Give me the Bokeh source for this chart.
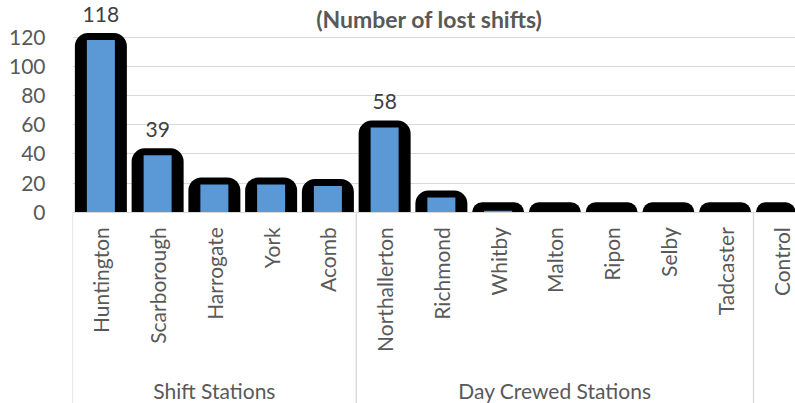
from bokeh.plotting import figure
from bokeh.models import Range1d, FixedTicker, LinearAxis, ColumnDataSource
from bokeh.core.properties import value
from bokeh.embed import file_html
from bokeh.resources import INLINE

# ---- data ----
stations = ["Huntington", "Scarborough", "Harrogate", "York", "Acomb",
            "Northallerton", "Richmond", "Whitby", "Malton", "Ripon",
            "Selby", "Tadcaster", "Control"]
lost_shifts = [118, 39, 19, 19, 18, 58, 10, 1, 0, 0, 0, 0, 0]
group_names = ["Shift Stations", "Day Crewed Stations", ""]
group_sizes = [5, 7, 1]
labelled_stations = ["Huntington", "Scarborough", "Northallerton"]
y_ticks = [0, 20, 40, 60, 80, 100, 120]
title_text = "(Number of lost shifts)"

# ---- layout constants (pixels) ----
W, H = 795, 403
LEFT = 72
PX_PER_UNIT = 175.0 / 120.0
CAT_PX = 56.75
ZERO_PX = 211.7          # canvas y of the value 0

xs = list(range(len(stations)))
x_start = -0.5
x_end = x_start + (W - LEFT) / CAT_PX
y_end = ZERO_PX / PX_PER_UNIT
y_start = -(H - ZERO_PX) / PX_PER_UNIT

TEXT = "#595959"
GRID = "#D9D9D9"
FONT = value("Lato")

p = figure(width=W, height=H, x_range=Range1d(x_start, x_end),
           y_range=Range1d(y_start, y_end), output_backend="svg",
           toolbar_location=None, x_axis_type=None,
           min_border_left=LEFT, min_border_right=0,
           min_border_top=0, min_border_bottom=0)
p.outline_line_color = None
p.background_fill_color = "white"
p.border_fill_color = "white"

# y axis
yax = p.yaxis[0]
yax.ticker = FixedTicker(ticks=y_ticks)
yax.axis_line_color = None
yax.major_tick_line_color = None
yax.minor_tick_line_color = None
yax.major_label_text_font = "Lato"
yax.major_label_text_font_size = "21px"
yax.major_label_text_color = TEXT
yax.major_label_standoff = 21
p.ygrid.ticker = FixedTicker(ticks=y_ticks)
p.ygrid.grid_line_color = GRID
p.ygrid.grid_line_width = 1

# x axis (category labels) sitting on the zero line
xax = LinearAxis(fixed_location=0, ticker=FixedTicker(ticks=xs),
                 major_label_overrides={i: s for i, s in enumerate(stations)})
xax.major_label_orientation = 3.14159265 / 2
xax.axis_line_color = GRID
xax.axis_line_width = 1
xax.major_tick_line_color = None
xax.minor_tick_line_color = None
xax.major_label_text_font = "Lato"
xax.major_label_text_font_size = "21px"
xax.major_label_text_color = TEXT
xax.major_label_standoff = 9
p.add_layout(xax, "below")

# group separators and labels
starts = []
s = 0
for n in group_sizes:
    starts.append(s)
    s += n
sep_x = [st - 0.5 for st in starts]
p.segment(x0=sep_x, y0=[0] * len(sep_x), x1=sep_x, y1=[y_start] * len(sep_x),
          line_color=GRID, line_width=1.3)
g_centers = [st + (n - 1) / 2 for st, n in zip(starts, group_sizes)]
p.text(x=g_centers, y=[(ZERO_PX - 390) / PX_PER_UNIT] * len(g_centers),
       text=group_names, text_align="center", text_baseline="middle",
       text_font=FONT, text_font_size="21px", text_color=TEXT)

# bars: thick black rounded outline + blue body
src = ColumnDataSource(dict(
    x=xs, v=lost_shifts,
    outer=[v + max(7.0, 10.0 - v * PX_PER_UNIT) / PX_PER_UNIT for v in lost_shifts],
))
p.vbar(x="x", top="outer", bottom=0, width=52 / CAT_PX, source=src,
       fill_color="black", line_color=None, border_radius=(13, 13, 0, 0))
p.vbar(x="x", top="v", bottom=0, width=28 / CAT_PX, source=src,
       fill_color="#5A98D6", line_color=None)

# data labels
lx = [i for i, s_ in enumerate(stations) if s_ in labelled_stations]
lv = [lost_shifts[i] for i in lx]
p.text(x=lx, y=[v + 26 / PX_PER_UNIT for v in lv], text=[str(v) for v in lv],
       text_align="center", text_baseline="middle", text_font=FONT,
       text_font_size="21px", text_color="#404040")

# title
p.text(x=[(429 - 72) / CAT_PX - 0.5], y=[(ZERO_PX - 18) / PX_PER_UNIT],
       text=[title_text], text_align="center", text_baseline="middle",
       text_font=FONT, text_font_size="23px", text_font_style="bold",
       text_color=TEXT)

open("out.html", "w").write(file_html(p, INLINE))
